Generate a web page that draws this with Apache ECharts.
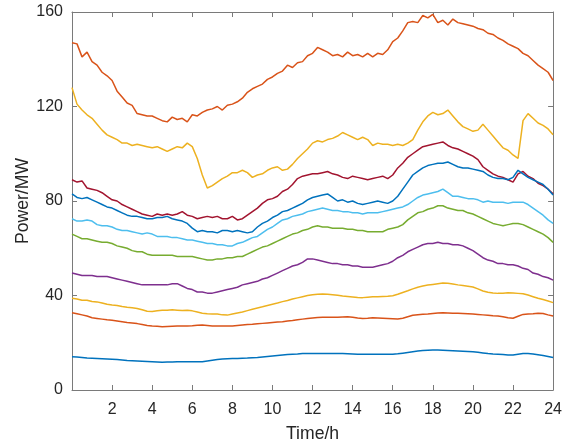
<!DOCTYPE html>
<html>
<head>
<meta charset="utf-8">
<script src="https://cdn.jsdelivr.net/npm/echarts@6/dist/echarts.min.js"></script>
<style>
html,body{margin:0;padding:0;background:#fff;}
#chart{width:565px;height:448px;}
</style>
</head>
<body>
<div id="chart"></div>
<script>
// time grid (h), 15-minute steps
const time = [];
for (let i = 0; i <= 96; i++) time.push(i * 0.25);

const xTicks = [2,4,6,8,10,12,14,16,18,20,22,24];
const yTicks = [0,40,80,120,160];

// each row = one hour (4 readings), last value is t = 24
const load1 = [
14.1,14.0,13.8,13.5, 13.4,13.3,13.2,13.1, 13.0,12.9,12.7,12.5, 12.4,12.3,12.2,12.1,
12.0,11.9,11.7,11.8, 11.9,12.0,12.0,12.0, 12.0,12.0,12.0,12.3, 12.6,12.9,13.1,13.2,
13.3,13.3,13.4,13.5, 13.7,13.8,14.0,14.2, 14.4,14.6,14.8,15.0, 15.1,15.2,15.4,15.5,
15.5,15.5,15.5,15.5, 15.5,15.5,15.4,15.3, 15.2,15.1,15.1,15.1, 15.1,15.1,15.1,15.1,
15.1,15.3,15.6,15.9, 16.2,16.5,16.7,16.8, 16.9,16.9,16.8,16.7, 16.6,16.5,16.4,16.3,
16.2,16.0,15.7,15.4, 15.2,15.1,15.0,14.8, 14.8,15.1,15.4,15.4, 15.2,14.9,14.6,14.2,
13.8];
const load2 = [
32.7,32.3,31.8,31.3, 30.6,30.3,30.0,29.7, 29.5,29.2,28.9,28.6, 28.4,28.1,27.7,27.3,
27.1,27.0,26.8,26.9, 27.0,27.1,27.1,27.1, 27.2,27.4,27.5,27.3, 27.1,27.1,27.1,27.1,
27.1,27.3,27.5,27.7, 27.8,28.0,28.2,28.4, 28.6,28.8,28.9,29.2, 29.4,29.7,30.0,30.3,
30.5,30.7,30.8,30.8, 30.8,30.8,30.9,31.0, 30.8,30.5,30.3,30.4, 30.6,30.5,30.4,30.3,
30.2,30.1,30.4,31.0, 31.6,31.9,32.1,32.2, 32.4,32.6,32.7,32.6, 32.5,32.5,32.4,32.3,
32.2,32.0,31.8,31.6, 31.4,31.3,31.0,30.6, 30.4,31.2,32.0,32.2, 32.3,32.5,32.4,31.8,
31.3];
const load3 = [
38.8,38.5,38.0,38.0, 37.5,37.3,36.8,36.3, 36.0,35.8,35.3,35.0, 34.8,34.5,34.0,33.3,
33.2,33.5,33.8,33.8, 34.0,33.8,33.6,33.8, 33.5,33.0,32.5,32.3, 32.2,32.2,31.8,31.7,
32.2,32.6,33.0,33.6, 34.2,34.7,35.2,35.8, 36.3,36.8,37.4,37.9, 38.5,39.0,39.5,40.0,
40.3,40.5,40.6,40.5, 40.3,40.1,39.8,39.6, 39.4,39.2,39.1,39.3, 39.5,39.5,39.6,39.7,
39.9,40.5,41.3,42.0, 42.8,43.5,44.0,44.4, 44.7,45.0,45.3,45.2, 44.9,44.5,44.2,43.9,
43.6,42.8,41.9,41.4, 41.1,40.9,41.0,41.2, 41.1,40.9,40.7,40.2, 39.5,38.8,38.3,37.7,
37.0];
const load4 = [
49.5,49.0,48.5,48.5, 48.5,48.0,48.0,48.0, 47.5,47.0,46.5,46.0, 45.5,45.0,44.5,44.5,
44.5,44.5,44.5,44.5, 45.0,45.0,44.0,43.0, 42.5,41.5,41.5,41.0, 41.0,41.5,42.0,42.5,
43.0,43.5,44.5,45.0, 45.5,46.0,47.0,47.5, 48.5,49.5,50.5,51.5, 52.5,53.0,54.0,55.5,
55.5,55.0,54.5,54.0, 53.5,53.5,53.0,53.0, 52.5,52.5,52.0,52.0, 52.0,52.5,53.0,53.5,
54.5,56.0,57.0,58.5, 59.5,60.5,61.5,62.0, 62.0,62.5,62.0,62.0, 61.5,61.5,61.0,60.0,
59.0,57.5,56.0,55.0, 54.5,53.5,53.5,53.0, 53.0,52.5,51.5,51.0, 49.5,49.0,48.0,47.5,
46.5];
const load5 = [
66.0,65.0,64.0,64.0, 63.5,63.0,62.5,62.5, 62.0,61.0,60.5,60.0, 59.0,58.5,58.5,57.5,
57.0,57.0,57.0,57.0, 57.0,56.5,56.5,56.5, 56.5,56.0,55.5,55.0, 55.0,55.5,55.5,56.0,
56.0,56.5,56.5,57.5, 58.5,59.5,60.5,61.0, 62.0,63.0,64.0,65.0, 66.0,66.5,67.5,68.0,
69.0,69.5,69.0,69.0, 68.5,68.5,68.5,68.0, 68.0,67.5,67.5,67.0, 67.0,67.0,67.0,68.0,
68.5,69.0,70.0,72.0, 73.5,75.0,75.5,76.5, 77.0,78.0,78.0,77.0, 76.5,76.0,76.0,75.0,
74.5,73.5,72.5,71.5, 70.5,70.0,69.5,70.0, 70.5,70.5,70.0,69.0, 68.0,67.0,66.0,64.5,
62.5];
const load6 = [
72.5,71.5,71.5,72.0, 71.5,70.0,69.5,69.5, 69.0,68.0,67.5,67.5, 67.0,66.5,66.0,66.5,
66.0,65.0,65.0,65.0, 64.5,64.5,64.0,63.5, 63.5,63.0,62.5,62.0, 62.0,61.5,61.5,61.0,
61.0,62.0,62.5,63.5, 64.5,65.0,66.5,68.0, 69.0,70.5,72.0,72.5, 73.5,74.0,74.5,75.5,
76.0,76.5,77.0,76.5, 76.0,76.0,75.5,75.5, 75.0,75.0,74.5,75.0, 75.0,75.0,75.5,76.0,
76.5,77.0,77.5,78.5, 80.0,81.5,82.5,83.0, 83.5,84.0,85.0,83.5, 82.0,82.0,81.5,81.0,
81.0,80.5,79.5,80.0, 79.5,79.5,79.5,79.0, 79.5,79.5,79.5,78.5, 77.0,75.5,74.0,72.0,
70.5];
const load7 = [
89.0,88.0,88.5,85.5, 85.0,84.5,83.5,82.0, 80.5,80.0,78.5,77.5, 76.5,75.5,74.5,74.0,
73.5,74.5,74.0,74.5, 74.0,74.5,75.5,74.0, 73.5,72.5,73.0,73.5, 73.0,73.5,72.5,72.5,
73.5,72.0,72.5,74.0, 75.5,77.0,79.0,80.5, 81.0,82.0,84.0,85.0, 87.0,89.5,90.5,91.0,
91.5,91.5,92.0,92.5, 91.5,91.0,90.0,89.5, 90.5,90.0,89.5,89.0, 89.5,90.0,90.5,89.5,
91.0,94.0,96.0,98.5, 100.0,101.5,103.0,103.5, 104.0,104.5,105.0,103.5, 102.5,102.0,101.0,100.0,
99.0,97.5,94.5,93.0, 91.5,90.5,90.0,89.0, 88.0,91.5,92.5,90.5, 89.5,87.5,86.5,85.0,
83.0];
const load8 = [
83.0,81.5,81.0,81.5, 80.5,79.5,78.5,77.5, 77.0,76.0,75.0,74.0, 73.5,73.5,73.0,72.5,
72.5,73.0,73.0,73.5, 72.5,72.0,71.5,70.5, 68.5,67.0,67.5,67.0, 67.0,66.5,67.5,67.5,
67.0,67.5,67.0,66.5, 67.0,69.0,70.5,71.5, 73.0,74.0,75.5,76.0, 77.0,78.0,79.0,80.5,
81.5,82.0,82.5,83.0, 81.5,80.0,80.5,79.5, 80.0,79.0,78.5,79.0, 79.5,80.0,79.5,79.0,
80.0,82.0,85.0,88.0, 91.0,92.5,94.0,95.0, 95.5,96.0,96.0,96.5, 95.5,94.5,94.0,94.0,
93.5,93.0,92.5,91.0, 90.0,89.5,89.5,89.0, 90.0,93.0,91.5,90.0, 89.0,88.0,87.0,85.0,
82.5];
const load9 = [
128.0,121.0,118.5,116.5, 115.0,112.5,110.0,108.0, 107.0,106.0,104.5,104.5, 103.5,104.0,103.5,103.0,
102.5,103.0,102.0,101.0, 102.0,103.0,102.5,104.5, 103.0,98.0,91.0,85.5, 86.5,88.0,89.5,90.5,
92.0,92.0,93.0,92.0, 90.0,91.0,91.5,93.0, 94.0,94.5,93.0,93.5, 95.5,98.0,100.0,102.0,
104.5,105.5,105.0,106.0, 106.5,107.5,109.0,108.0, 107.0,106.0,107.0,106.0, 103.5,104.5,104.0,104.0,
103.5,104.0,103.5,104.5, 106.0,110.0,113.5,116.0, 117.5,116.5,117.0,118.5, 116.0,113.5,111.5,110.5,
109.5,110.0,112.5,110.0, 107.5,105.0,102.5,101.5, 99.5,98.0,114.0,117.0, 115.0,113.0,112.0,110.5,
108.0];
const load10 = [
147.0,146.5,141.0,143.0, 139.0,137.5,134.5,133.0, 131.0,126.5,124.0,121.5, 120.5,117.0,116.5,116.0,
116.0,115.0,114.0,113.5, 115.5,114.5,115.0,113.5, 116.5,116.0,117.5,118.5, 119.0,120.0,118.5,120.5,
121.0,122.0,123.5,126.0, 127.5,128.5,129.5,131.5, 132.5,134.0,135.0,137.5, 136.5,138.5,139.0,141.5,
142.5,145.0,144.0,143.0, 141.5,142.0,141.0,143.0, 141.5,142.0,141.0,142.5, 141.0,142.5,142.0,144.0,
147.5,149.0,152.0,155.5, 156.0,155.5,158.5,157.5, 159.0,155.5,156.5,154.5, 157.0,155.5,155.0,154.5,
154.0,153.0,152.5,151.0, 150.5,149.0,148.0,146.5, 145.5,144.5,142.5,141.5, 139.5,137.5,136.0,134.5,
131.0];

const loads = [load1, load2, load3, load4, load5, load6, load7, load8, load9, load10];
const colors = ['#0072BD','#D95319','#EDB120','#7E2F8E','#77AC30','#4DBEEE','#A2142F','#0072BD','#EDB120','#D95319'];

const FONT = "'Liberation Sans', Arial, Helvetica, sans-serif";
const AX = '#262626';
const LINE = '#7a7a7a';

const chart = echarts.init(document.getElementById('chart'), null, {renderer: 'canvas'});

const baseX = {
  type: 'value', min: 0, max: 24, interval: 2,
  axisLine: {show: true, onZero: false, lineStyle: {color: LINE, width: 1}},
  axisTick: {show: true, inside: true, length: 5, lineStyle: {color: LINE}},
  splitLine: {show: false}
};
const baseY = {
  type: 'value', min: 0, max: 160, interval: 40,
  axisLine: {show: true, onZero: false, lineStyle: {color: LINE, width: 1}},
  axisTick: {show: true, inside: true, length: 5, lineStyle: {color: LINE}},
  splitLine: {show: false}
};

chart.setOption({
  animation: false,
  backgroundColor: '#fff',
  grid: {left: 72, right: 10, top: 12, bottom: 58, containLabel: false},
  xAxis: [
    Object.assign({}, baseX, {
      position: 'bottom',
      name: 'Time/h', nameLocation: 'middle', nameGap: 35,
      nameTextStyle: {fontFamily: FONT, fontSize: 17.6, color: AX},
      axisLabel: {
        fontFamily: FONT, fontSize: 16, color: AX, margin: 12,
        formatter: v => (xTicks.indexOf(v) >= 0 ? String(v) : '')
      }
    }),
    Object.assign({}, baseX, {position: 'top', axisLabel: {show: false}})
  ],
  yAxis: [
    Object.assign({}, baseY, {
      position: 'left',
      name: 'Power/MW', nameLocation: 'middle', nameGap: 40, nameRotate: 90,
      nameMoveOverlap: false,
      nameTextStyle: {fontFamily: FONT, fontSize: 17.6, color: AX},
      axisLabel: {
        fontFamily: FONT, fontSize: 16, color: AX, margin: 9,
        formatter: v => (yTicks.indexOf(v) >= 0 ? String(v) : '')
      }
    }),
    Object.assign({}, baseY, {position: 'right', axisLabel: {show: false}})
  ],
  series: loads.map((arr, k) => ({
    type: 'line',
    xAxisIndex: 0, yAxisIndex: 0,
    data: time.map((t, i) => [t, arr[i]]),
    showSymbol: false, symbol: 'none',
    lineStyle: {color: colors[k], width: 1.5},
    itemStyle: {color: colors[k]},
    z: 2 + k
  }))
});
</script>
</body>
</html>
